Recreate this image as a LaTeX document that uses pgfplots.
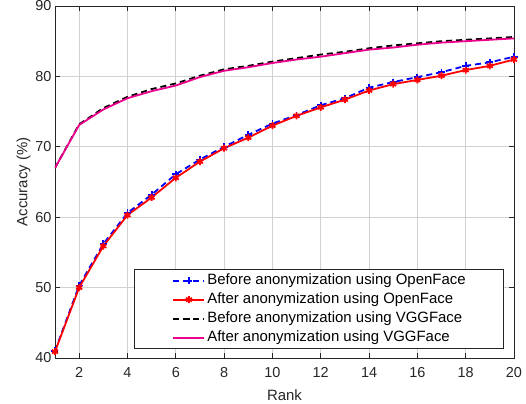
\documentclass[border=0pt]{standalone}
\usepackage{fontspec}
\setmainfont{Liberation Sans}
\usepackage{pgfplots}
\pgfplotsset{compat=1.18}
\definecolor{axgray}{RGB}{38,38,38}
\definecolor{gridgray}{RGB}{210,210,210}

\pgfplotstableread{
rank beforeOF afterOF beforeVGG afterVGG
1  41.0 40.9 67.0 67.0
2  50.3 50.0 73.2 73.1
3  56.2 55.9 75.5 75.3
4  60.6 60.3 77.1 76.9
5  63.2 62.8 78.2 77.9
6  66.1 65.6 79.0 78.7
7  68.2 67.9 80.1 79.9
8  70.0 69.8 81.0 80.8
9  71.7 71.3 81.5 81.3
10 73.3 73.0 82.1 81.9
11 74.5 74.4 82.6 82.4
12 75.9 75.6 83.1 82.8
13 76.9 76.7 83.5 83.3
14 78.4 78.0 84.0 83.8
15 79.2 78.9 84.4 84.1
16 79.9 79.5 84.7 84.5
17 80.6 80.1 85.0 84.8
18 81.5 80.9 85.2 85.0
19 82.0 81.5 85.4 85.2
20 82.8 82.4 85.6 85.4
}\acc

\begin{document}
\begin{tikzpicture}
\begin{axis}[
  scale only axis,
  width=459bp, height=352bp,
  xmin=1, xmax=20, ymin=40, ymax=90,
  xtick={2,4,...,20}, ytick={40,50,...,90},
  grid=major,
  major grid style={gridgray, line width=0.7bp},
  axis line style={axgray, line width=0.7bp},
  tick style={axgray, line width=0.7bp},
  tick align=inside, major tick length=5bp,
  font=\fontsize{15}{17}\selectfont,
  ticklabel style={color=axgray, font=\fontsize{14.5}{17}\selectfont},
  /pgf/number format/assume math mode=true,
  xticklabel style={yshift=-6bp},
  xlabel={Rank}, ylabel={Accuracy (\%)},
  label style={color=axgray},
  xlabel style={yshift=-5bp},
  ylabel style={yshift=-2bp},
  legend cell align=left,
  legend image code/.code={\draw[mark repeat=2, mark phase=2, #1] plot coordinates {(0bp,0bp) (15.5bp,0bp) (31bp,0bp)};},
  legend style={at={(1,0)}, anchor=south east, xshift=-10bp, yshift=9bp,
    draw=axgray, line width=0.7bp, font=\fontsize{15}{17}\selectfont,
    inner xsep=38bp, inner ysep=4.5bp, column sep=2bp, row sep=6bp,
    nodes={inner sep=0pt, text height=10bp, text depth=3bp}},
]
\addplot[blue, line width=1.8bp, dash pattern=on 6bp off 4bp, mark=+, mark size=3.5bp, mark options={solid}] table[x=rank, y=beforeOF] {\acc};
\addlegendentry{Before anonymization using OpenFace}
\addplot[red, line width=1.8bp, mark=asterisk, mark size=3.5bp] table[x=rank, y=afterOF] {\acc};
\addlegendentry{After anonymization using OpenFace}
\addplot[black, line width=1.8bp, dash pattern=on 6bp off 4bp] table[x=rank, y=beforeVGG] {\acc};
\addlegendentry{Before anonymization using VGGFace}
\addplot[magenta, line width=1.8bp] table[x=rank, y=afterVGG] {\acc};
\addlegendentry{After anonymization using VGGFace}
\end{axis}
\pgfresetboundingbox
\path[use as bounding box] ([xshift=-55bp,yshift=-46bp]current axis.south west) rectangle ([xshift=12bp,yshift=6bp]current axis.north east);
\end{tikzpicture}
\end{document}
